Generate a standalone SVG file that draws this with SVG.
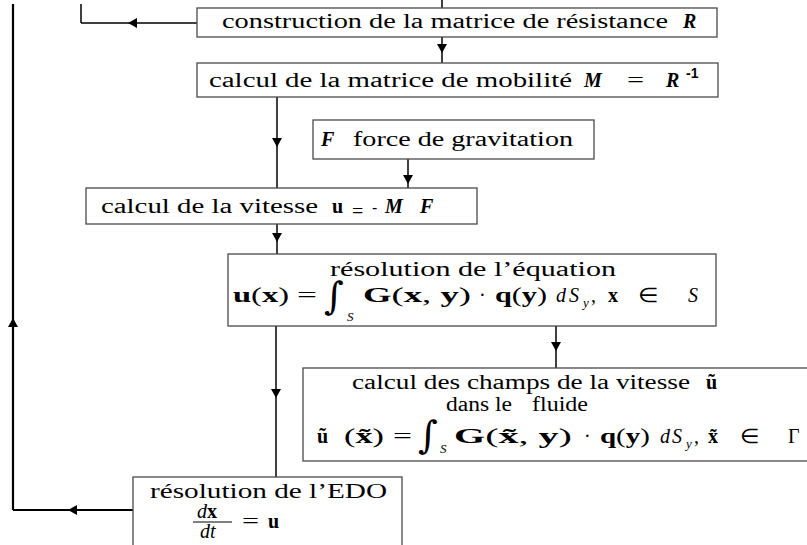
<svg xmlns="http://www.w3.org/2000/svg" width="807" height="545" viewBox="0 0 807 545">
<defs>
<style>
.box{fill:#fff;stroke:#4a4a4a;stroke-width:1.3}
.t{font-family:"Liberation Serif","Times New Roman",serif;font-size:20px;fill:#000}
.m{font-family:"Liberation Serif","Times New Roman",serif;font-size:20px;fill:#000}
.sub{font-family:"Liberation Serif","Times New Roman",serif;font-size:13px;font-style:italic;fill:#000}
.int{font-family:"DejaVu Serif","Liberation Serif",serif;font-size:38px;fill:#000}
.bi{font-weight:bold;font-style:italic}
.b{font-weight:bold}
.i{font-style:italic}
.c{stroke:#000;stroke-width:1.5;fill:none}
.big{stroke-width:2.2}
</style>
<marker id="ah" viewBox="0 0 9 10" refX="9" refY="5" markerWidth="9" markerHeight="10" markerUnits="userSpaceOnUse" orient="auto">
<path d="M0,0 L9,5 L0,10 z" fill="#000"/>
</marker>
</defs>
<rect width="807" height="545" fill="#fff"/>

<g id="connectors">
<path class="c" d="M442,0 L442,8"/>
<path class="c" d="M442,37 L442,53 L442,63" marker-mid="url(#ah)"/>
<path class="c" d="M197,23 L128,23 L81,23" marker-mid="url(#ah)"/>
<path class="c" d="M81,23 L81,4"/>
<path class="c big" d="M133,510 L68,510 L13,510" marker-mid="url(#ah)"/>
<path class="c big" d="M13,510 L13,318 L13,4" marker-mid="url(#ah)"/>
<path class="c" d="M277,97 L277,147 L277,188" marker-mid="url(#ah)"/>
<path class="c" d="M408,159 L408,184 L408,188" marker-mid="url(#ah)"/>
<path class="c" d="M277,224 L277,242 L277,254" marker-mid="url(#ah)"/>
<path class="c" d="M276,326 L276,398 L276,477" marker-mid="url(#ah)"/>
<path class="c" d="M556,326 L556,351 L556,368" marker-mid="url(#ah)"/>
</g>

<g id="construction">
<rect class="box" x="197" y="8" width="520" height="29"/>
<text class="t" x="222" y="28" textLength="446" lengthAdjust="spacingAndGlyphs">construction de la matrice de résistance</text>
<text class="t bi" x="683" y="28" font-size="22">R</text>
</g>

<g id="mobilite">
<rect class="box" x="197" y="63" width="521" height="34"/>
<text class="t" x="209" y="87" textLength="363" lengthAdjust="spacingAndGlyphs">calcul de la matrice de mobilité</text>
<text class="t bi" x="584" y="87" font-size="22">M</text>
<text class="t" x="627" y="87" textLength="17" lengthAdjust="spacingAndGlyphs">=</text>
<text class="t bi" x="666" y="87" font-size="22">R</text>
<text x="686" y="78" font-family="Liberation Sans, Arial, sans-serif" font-size="14" font-weight="bold">-1</text>
</g>

<g id="gravitation">
<rect class="box" x="313" y="120" width="281" height="39"/>
<text class="t bi" x="321" y="146" font-size="22">F</text>
<text class="t" x="353" y="146" textLength="220" lengthAdjust="spacingAndGlyphs">force de gravitation</text>
</g>

<g id="vitesse">
<rect class="box" x="86" y="188" width="391" height="36"/>
<text class="t" x="101" y="213" textLength="217" lengthAdjust="spacingAndGlyphs">calcul de la vitesse</text>
<text class="t b" x="332" y="213" font-size="22">u</text>
<text class="t" x="352" y="218" font-size="16">=</text>
<text x="372" y="213" font-family="Liberation Sans, Arial, sans-serif" font-size="16">-</text>
<text class="t bi" x="385" y="213" font-size="23">M</text>
<text class="t bi" x="420" y="213" font-size="23">F</text>
</g>

<g id="equation">
<rect class="box" x="228" y="254" width="488" height="72"/>
<text class="m" x="330" y="276" textLength="286" lengthAdjust="spacingAndGlyphs">résolution de l’équation</text>
<text class="m" x="233" y="302" textLength="56" lengthAdjust="spacingAndGlyphs"><tspan class="b">u</tspan>(<tspan class="b">x</tspan>)</text>
<text class="m" x="297" y="302" textLength="20" lengthAdjust="spacingAndGlyphs">=</text>
<text class="int" x="324" y="309">∫</text>
<text class="sub" x="347" y="321">S</text>
<text class="m" x="363" y="302" textLength="108" lengthAdjust="spacingAndGlyphs"><tspan class="b">G</tspan>(<tspan class="b">x</tspan>, <tspan class="b">y</tspan>)</text>
<text class="m" x="479" y="302">·</text>
<text class="m" x="495" y="302" textLength="52" lengthAdjust="spacingAndGlyphs"><tspan class="b">q</tspan>(<tspan class="b">y</tspan>)</text>
<text class="m i" x="556" y="302">d</text>
<text class="m i" x="569" y="302">S</text>
<text class="sub" x="583" y="307">y</text>
<text class="m" x="591" y="302">,</text>
<text class="m b" x="608" y="302">x</text>
<text class="m" x="638" y="302" textLength="20" lengthAdjust="spacingAndGlyphs">∈</text>
<text class="m i" x="688" y="302">S</text>
</g>

<g id="champs">
<rect class="box" x="303" y="368" width="520" height="93"/>
<text class="t" x="352" y="389" textLength="338" lengthAdjust="spacingAndGlyphs">calcul des champs de la vitesse</text>
<text class="m b" x="706" y="389">ũ</text>
<text class="t" x="446" y="411" textLength="66" lengthAdjust="spacingAndGlyphs">dans le</text>
<text class="t" x="532" y="411" textLength="56" lengthAdjust="spacingAndGlyphs">fluide</text>
<text class="m b" x="317" y="443">ũ</text>
<text class="m" x="344" y="443" textLength="40" lengthAdjust="spacingAndGlyphs">(<tspan class="b">x̃</tspan>)</text>
<text class="m" x="393" y="443" textLength="19" lengthAdjust="spacingAndGlyphs">=</text>
<text class="int" x="418" y="448" font-size="32">∫</text>
<text class="sub" x="440" y="453">S</text>
<text class="m" x="454" y="443" textLength="118" lengthAdjust="spacingAndGlyphs"><tspan class="b">G</tspan>(<tspan class="b">x̃</tspan>, <tspan class="b">y</tspan>)</text>
<text class="m" x="584" y="443">·</text>
<text class="m" x="600" y="443" textLength="50" lengthAdjust="spacingAndGlyphs"><tspan class="b">q</tspan>(<tspan class="b">y</tspan>)</text>
<text class="m i" x="660" y="443">d</text>
<text class="m i" x="672" y="443">S</text>
<text class="sub" x="686" y="448">y</text>
<text class="m" x="694" y="443">,</text>
<text class="m b" x="708" y="443">x̃</text>
<text class="m" x="740" y="443" textLength="19" lengthAdjust="spacingAndGlyphs">∈</text>
<text class="m" x="788" y="443">Γ</text>
</g>

<g id="edo">
<rect class="box" x="133" y="477" width="269" height="80"/>
<text class="m" x="150" y="498" textLength="237" lengthAdjust="spacingAndGlyphs">résolution de l’EDO</text>
<text class="m" x="197" y="518" font-size="17"><tspan class="i">d</tspan><tspan class="b">x</tspan></text>
<line x1="193" y1="522" x2="232" y2="522" stroke="#000" stroke-width="1"/>
<text class="m i" x="200" y="538" font-size="17">dt</text>
<text class="m" x="242" y="528" textLength="17" lengthAdjust="spacingAndGlyphs">=</text>
<text class="m b" x="268" y="528">u</text>
</g>
</svg>
